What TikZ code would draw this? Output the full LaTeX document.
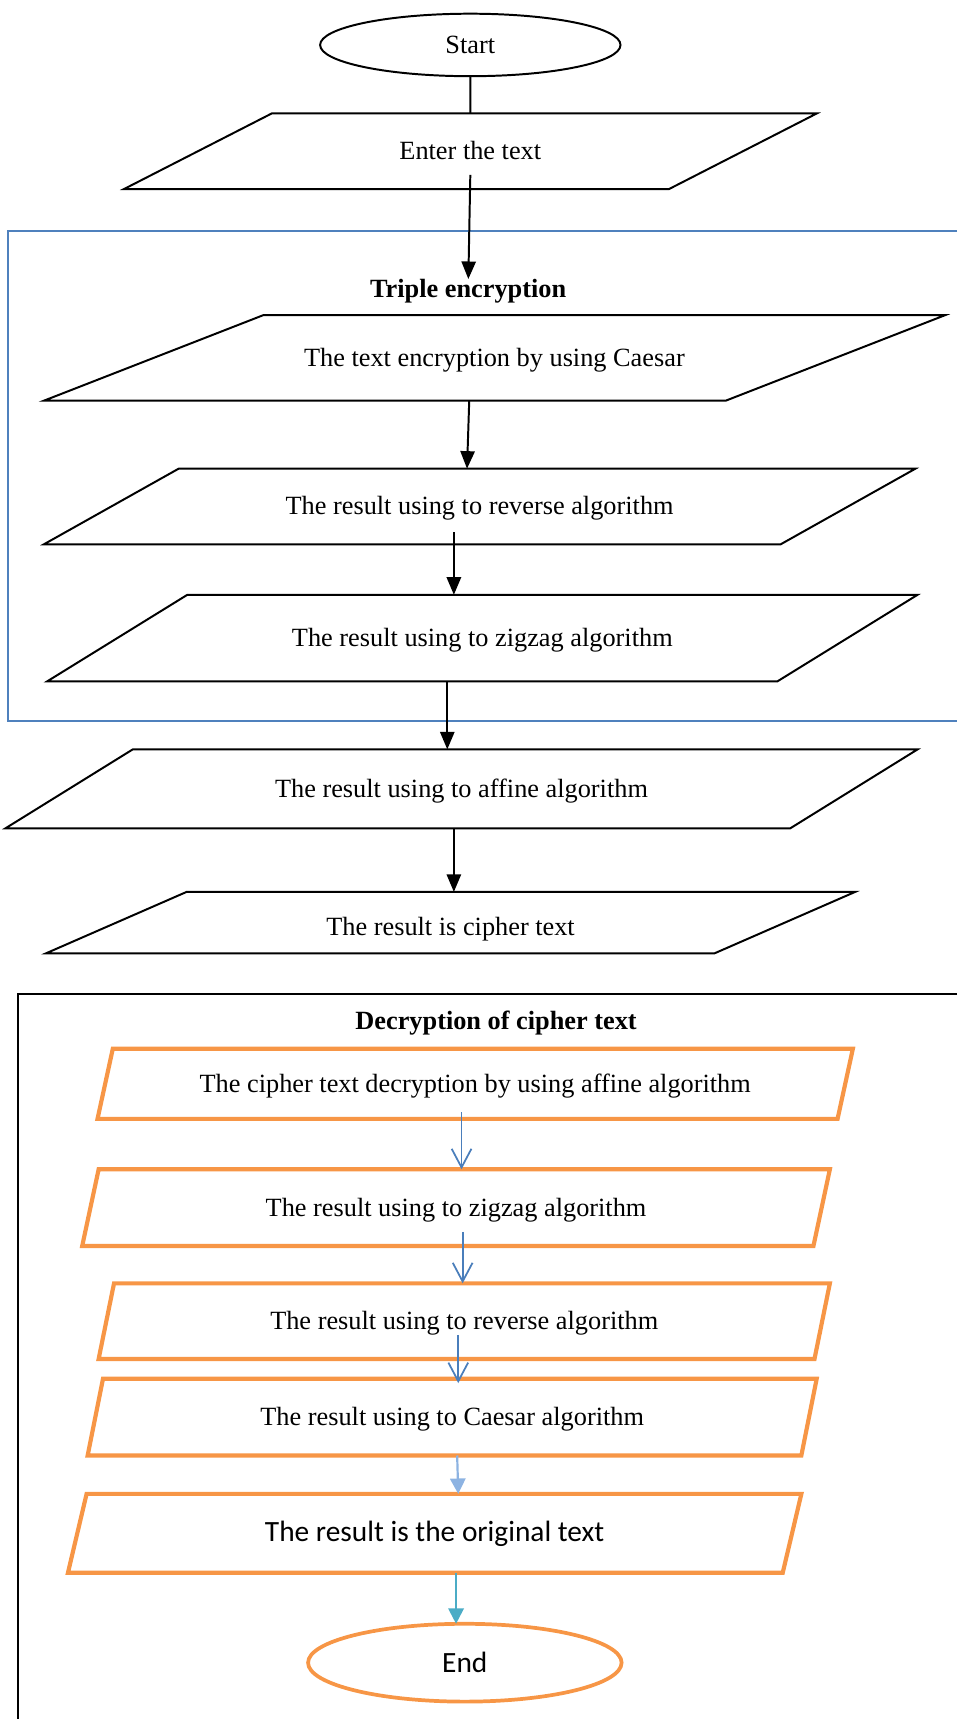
\documentclass[tikz,border=0pt]{standalone}
\usepackage{fontspec}
\setmainfont{Liberation Serif}
\newfontfamily\calibri{Carlito}
\usepackage{xcolor}
\usetikzlibrary{shapes.geometric, arrows.meta, positioning}
\definecolor{boxorange}{HTML}{F79646}
\definecolor{frameblue}{HTML}{4F81BD}
\definecolor{flowblue}{HTML}{4A7EBB}
\definecolor{paleblue}{HTML}{8DB3E2}
\definecolor{tealblue}{HTML}{4BACC6}

\begin{document}
\begin{tikzpicture}[
    x=0.5pt, y=-0.5pt,
    every node/.style={outer sep=0pt, font=\fontsize{12}{14}\selectfont},
    % #1 left angle, #2 total width, #3 height (pt, no unit)
    para/.style n args={3}{draw, line width=0.9pt, trapezium, trapezium stretches body,
        /utils/exec={\pgfmathsetmacro\pararight{180-#1}%
            \pgfmathsetmacro\paraht{#3/2+3.8}\pgfmathsetmacro\paradp{#3/2-3.8}},
        trapezium left angle=#1, trapezium right angle=\pararight,
        text height=\paraht pt, text depth=\paradp pt,
        minimum width=#2, inner sep=0pt},
    decpara/.style n args={3}{para={#1}{#2}{#3}, draw=boxorange, line width=1.9pt, fill=white},
    oval/.style={draw, ellipse, line width=0.9pt, inner sep=0pt},
    heading/.style={font=\fontsize{12}{14}\selectfont\bfseries, inner sep=0pt},
    calib/.style={font=\calibri\fontsize{13.4}{16}\selectfont},
    arrow/.style={-{Triangle[length=8pt, width=6.5pt]}, line width=0.9pt},
    barb/.style={-{Straight Barb[length=8.5pt, width=9pt]}, line width=0.8pt, color=flowblue},
    palearrow/.style={-{Triangle[length=7pt, width=7pt]}, line width=1pt, color=paleblue},
    tealarrow/.style={-{Triangle[length=7pt, width=7pt]}, line width=1pt, color=tealblue}
]
\useasboundingbox (0,0) rectangle (873,1568);

% frames round the two stages
\draw[frameblue, line width=1pt] (873,211) -- (7,211) -- (7,658) -- (873,658);
\draw[line width=0.9pt] (873,907) -- (16,907) -- (16,1568);

% encryption
\node (start) [oval, minimum width=137pt, minimum height=28.5pt] at (429,41) {Start};
\node (enter) [para={27.1}{316pt}{34.5}, below=17pt of start] {Enter the text};
\node (triple) [heading, below=41pt of enter, xshift=-1pt] {Triple encryption};
\node (caesar) [para={21.3}{411pt}{39}, below=57.5pt of enter, xshift=11pt] {The text encryption by using Caesar};
\node (rev) [para={29.3}{397.5pt}{34.5}, below=31pt of caesar, xshift=-6.75pt] {The result using to reverse algorithm};
\node (zig) [para={31.7}{397pt}{39.5}, below=23pt of rev, xshift=1.25pt] {The result using to zigzag algorithm};
\node (aff) [para={31.8}{416pt}{36}, below=31pt of zig, xshift=-9.5pt] {The result using to affine algorithm};
\node (ciph) [para={23.6}{369pt}{28}, text height=19.8pt, text depth=8.2pt, below=29pt of aff, xshift=-5pt] {The result is cipher text};

% decryption
\node (dectitle) [heading, below=26.3pt of ciph, xshift=20.75pt] {Decryption of cipher text};
\node (dec1) [decpara={77.7}{344.5pt}{32}, below=43.5pt of ciph, xshift=11.25pt] {The cipher text decryption by using affine algorithm};
\node (dec2) [decpara={77.9}{341pt}{35}, below=23pt of dec1, xshift=-8.75pt] {The result using to zigzag algorithm};
\node (dec3) [decpara={78.5}{333.5pt}{34.5}, below=17pt of dec2, xshift=3.75pt] {The result using to reverse algorithm};
\node (dec4) [decpara={78.7}{332.5pt}{35}, below=9pt of dec3, xshift=-5.5pt] {The result using to Caesar algorithm};
\node (dec5) [decpara={76.7}{334.5pt}{36}, calib, below=17.5pt of dec4, xshift=-8pt] {The result is the original text};
\node (stop) [oval, calib, draw=boxorange, line width=1.7pt, minimum width=143pt, minimum height=35.5pt, below=23.25pt of dec5, xshift=13.75pt] {End};

\draw[line width=0.9pt] (start) -- (enter);
\draw[arrow] ([yshift=6.5pt]enter.south) -- (triple);
\draw[arrow] ([xshift=-11.5pt]caesar.south) -- ([xshift=-5.75pt]rev.north);
\draw[arrow] ([xshift=-11.75pt, yshift=5.5pt]rev.south) -- ([xshift=-13pt]zig.north);
\draw[arrow] ([xshift=-16pt]zig.south) -- ([xshift=-6.5pt]aff.north);
\draw[arrow] ([xshift=-3.5pt]aff.south) -- ([xshift=1.5pt]ciph.north);

\draw[barb] ([xshift=-6.25pt, yshift=3pt]dec1.south) -- ([xshift=2.5pt]dec2.north);
\draw[barb] ([xshift=3pt, yshift=6.5pt]dec2.south) -- ([xshift=-0.75pt]dec3.north);
\draw[barb] ([xshift=-2.75pt, yshift=11pt]dec3.south) -- ([xshift=2.75pt, yshift=-2pt]dec4.north);
\draw[palearrow] ([xshift=2.25pt]dec4.south) -- ([xshift=10.75pt]dec5.north);
\draw[tealarrow] ([xshift=9.75pt]dec5.south) -- ([xshift=-4pt]stop.north);
\end{tikzpicture}
\end{document}
